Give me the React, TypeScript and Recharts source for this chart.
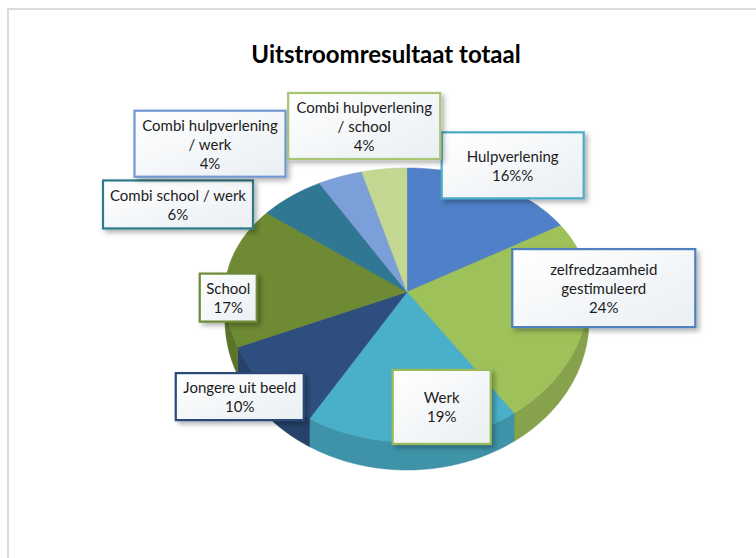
import { PieChart, Pie } from 'recharts';

const categories = [
  'Hulpverlening',
  'zelfredzaamheid gestimuleerd',
  'Werk',
  'Jongere uit beeld',
  'School',
  'Combi school / werk',
  'Combi hulpverlening / werk',
  'Combi hulpverlening / school',
];
const values = [16, 24, 19, 10, 17, 6, 4, 4];
const labelLines = [
  ['Hulpverlening'],
  ['zelfredzaamheid', 'gestimuleerd'],
  ['Werk'],
  ['Jongere uit beeld'],
  ['School'],
  ['Combi school / werk'],
  ['Combi hulpverlening', '/ werk'],
  ['Combi hulpverlening', '/ school'],
];
// the original sheet shows a doubled percent sign on the first label
const pctSuffix = ['%%', '%', '%', '%', '%', '%', '%', '%'];

const sliceColors = ['#4f80c8', '#9fc15a', '#4aafc9', '#2d4e7e', '#6e8a32', '#2f7792', '#7b9fd8', '#c5d893'];
const boxBorders = ['#4bacc6', '#4f81bd', '#9bbb59', '#2a4a7a', '#6b8a36', '#2e7a8c', '#7099d2', '#a9c574'];

// box centre offset from the rim point at the slice's mid angle, plus box size
const boxLayout = [
  { dx: 18, dy: -18, w: 142, h: 66 },
  { dx: 18, dy: -32, w: 183, h: 78 },
  { dx: 29, dy: -35, w: 98, h: 74 },
  { dx: -27, dy: 9, w: 128, h: 47 },
  { dx: 1, dy: 25, w: 57, h: 48 },
  { dx: -113, dy: 8, w: 150, h: 48 },
  { dx: -130, dy: -33, w: 151, h: 66 },
  { dx: -20, dy: -43, w: 152, h: 66 },
];

const data = categories.map((name, i) => ({ name, value: values[i] }));

const CX = 407;
const CY = 292;
const RX = 182;
const RY_TOP = 124;
const RY_BOT = 150;
const DEPTH = 28;

function shade(hex: string, f: number) {
  const n = parseInt(hex.slice(1), 16);
  const r = Math.round(((n >> 16) & 255) * f);
  const g = Math.round(((n >> 8) & 255) * f);
  const b = Math.round((n & 255) * f);
  return `rgb(${r},${g},${b})`;
}

function rim(cx: number, cy: number, r: number, a: number): [number, number] {
  const rad = (a * Math.PI) / 180;
  const s = Math.sin(rad);
  const ry = ((s >= 0 ? RY_TOP : RY_BOT) * r) / RX;
  return [cx + r * Math.cos(rad), cy - ry * s];
}

function arc(cx: number, cy: number, r: number, a1: number, a2: number) {
  const steps = Math.max(2, Math.ceil(Math.abs(a2 - a1)));
  const pts: [number, number][] = [];
  for (let i = 0; i <= steps; i++) pts.push(rim(cx, cy, r, a1 + ((a2 - a1) * i) / steps));
  return pts;
}

const renderSlice = (props: any) => {
  const { cx, cy, outerRadius, startAngle, endAngle, index } = props;
  const color = sliceColors[index];
  const top = arc(cx, cy, outerRadius, startAngle, endAngle);
  const topPath = `M${cx},${cy} L${top.map((p) => p.join(',')).join(' L')} Z`;

  let sidePath = '';
  const lo = Math.max(Math.min(startAngle, endAngle), -180);
  const hi = Math.min(Math.max(startAngle, endAngle), 0);
  if (hi > lo) {
    const edge = arc(cx, cy, outerRadius, hi, lo);
    const down = edge.map(([x, y]) => [x, y + DEPTH]).reverse();
    sidePath = `M${edge.map((p) => p.join(',')).join(' L')} L${down.map((p) => p.join(',')).join(' L')} Z`;
  }
  return (
    <g key={`slice-${index}`}>
      {sidePath && <path d={sidePath} fill={shade(color, 0.84)} stroke={shade(color, 0.78)} strokeWidth={0.5} />}
      <path d={topPath} fill={color} stroke={shade(color, 0.92)} strokeWidth={0.5} />
    </g>
  );
};

const renderBox = (props: any) => {
  const { cx, cy, outerRadius, midAngle, percent, index } = props;
  const [rx, ry] = rim(cx, cy, outerRadius, midAngle);
  const box = boxLayout[index];
  const bx = rx + box.dx;
  const by = ry + box.dy;
  const lines = [...labelLines[index], `${Math.round(percent * 100)}${pctSuffix[index]}`];
  const lh = 19;
  return (
    <g key={`box-${index}`}>
      <rect
        x={bx - box.w / 2}
        y={by - box.h / 2}
        width={box.w}
        height={box.h}
        fill="url(#boxFill)"
        stroke={boxBorders[index]}
        strokeWidth={2.2}
        filter="url(#boxShadow)"
      />
      {lines.map((t, i) => (
        <text
          key={i}
          x={bx}
          y={by + (i - (lines.length - 1) / 2) * lh}
          textAnchor="middle"
          dominantBaseline="central"
          fontFamily="Lato, 'Open Sans', sans-serif"
          fontSize={15}
          fill="#1c1c1c"
        >
          {t}
        </text>
      ))}
    </g>
  );
};

export default function App() {
  return (
    <div style={{ position: 'absolute', left: 0, top: 0, width: 756, height: 558, background: '#fff', overflow: 'hidden' }}>
      <div
        style={{
          position: 'absolute',
          left: 7,
          top: 8,
          width: 800,
          height: 600,
          borderTop: '2px solid #dcdcdc',
          borderLeft: '2px solid #dcdcdc',
        }}
      />
      <div
        style={{
          position: 'absolute',
          left: 0,
          top: 42,
          width: 772,
          textAlign: 'center',
          fontFamily: 'Lato, sans-serif',
          fontWeight: 700,
          fontSize: 24,
          lineHeight: '24px',
          color: '#000',
        }}
      >
        Uitstroomresultaat totaal
      </div>
      <div style={{ position: 'absolute', left: 0, top: 0 }}>
        <PieChart width={756} height={558} margin={{ top: 0, right: 0, bottom: 0, left: 0 }}>
          <defs>
            <linearGradient id="boxFill" x1="0" y1="0" x2="1" y2="1">
              <stop offset="0%" stopColor="#ffffff" />
              <stop offset="100%" stopColor="#eaeff3" />
            </linearGradient>
            <filter id="boxShadow" x="-20%" y="-20%" width="150%" height="160%">
              <feDropShadow dx="3" dy="3" stdDeviation="2.5" floodColor="#000" floodOpacity="0.3" />
            </filter>
          </defs>
          <Pie
            data={data}
            dataKey="value"
            nameKey="name"
            cx={CX}
            cy={CY}
            outerRadius={RX}
            startAngle={90}
            endAngle={-270}
            fill="transparent"
            stroke="none"
            label={renderSlice}
            labelLine={false}
            isAnimationActive={false}
          />
          <Pie
            data={data}
            dataKey="value"
            nameKey="name"
            cx={CX}
            cy={CY}
            outerRadius={RX}
            startAngle={90}
            endAngle={-270}
            fill="transparent"
            stroke="none"
            label={renderBox}
            labelLine={false}
            isAnimationActive={false}
          />
        </PieChart>
      </div>
    </div>
  );
}
